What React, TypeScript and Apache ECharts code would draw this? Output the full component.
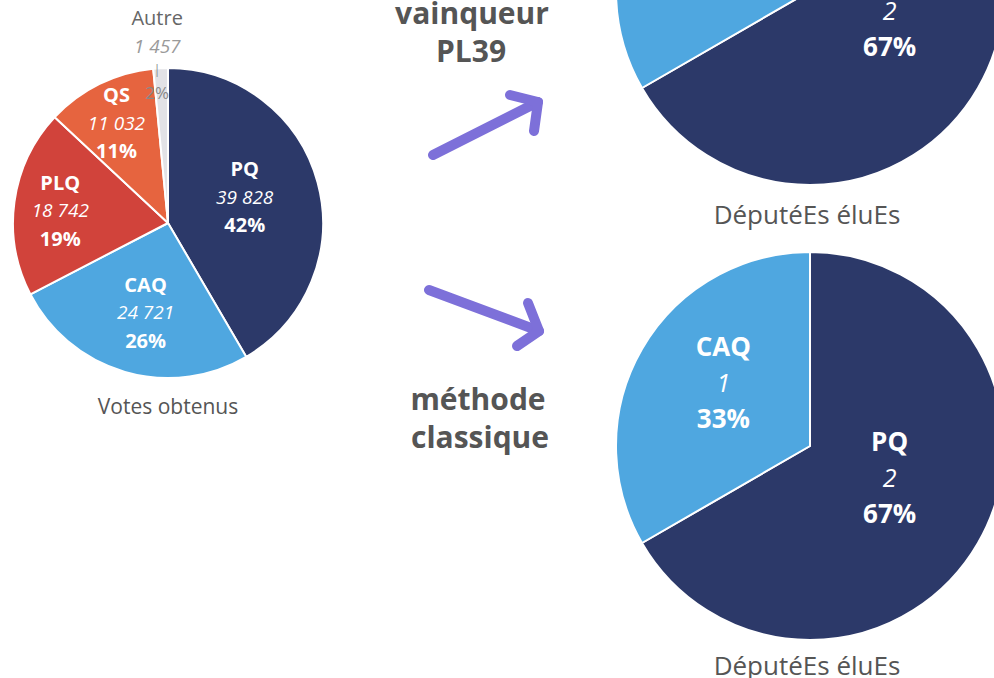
import React, { useEffect, useRef } from "react";
import * as echarts from "echarts";

// Votes obtenus
const voteNames = ["PQ", "CAQ", "PLQ", "QS", "Autre"];
const voteValues = [39828, 24721, 18742, 11032, 1457];
const voteValueLabels = ["39 828", "24 721", "18 742", "11 032", "1 457"];
const votePctLabels = ["42%", "26%", "19%", "11%", "2%"];

// Députées élues
const seatNames = ["PQ", "CAQ"];
const seatsPL39 = [2, 1];
const seatsClassic = [2, 1];
const seatPctLabels = ["67%", "33%"];

const captionVotes = "Votes obtenus";
const captionSeats = "DéputéEs éluEs";
const textPL39 = ["vainqueur", "PL39"];
const textClassic = ["méthode", "classique"];

const COLORS: Record<string, string> = {
  PQ: "#2c3969",
  CAQ: "#4fa7e0",
  PLQ: "#d1433b",
  QS: "#e6643f",
  Autre: "#e2e2e6",
};

const FONT = "'Open Sans', 'Noto Sans', sans-serif";
const ARROW = "#7d70d9";

// label offsets (layout only)
const voteLabelShift = [
  [-1, -5],
  [0, 12],
  [-28, -2],
  [-16, -28],
  [-7, -88],
];
const seatLabelShiftBottom = [
  [-7, -19],
  [0, -14],
];
const seatLabelShiftTop = [
  [-7, -31],
  [0, -14],
];

function seatSeries(values: number[], center: [number, number], shift: number[][]) {
  return {
    type: "pie",
    center,
    radius: 194,
    startAngle: 90,
    clockwise: true,
    silent: true,
    itemStyle: { borderColor: "#ffffff", borderWidth: 2 },
    label: {
      show: true,
      position: "inside",
      color: "#ffffff",
      fontFamily: FONT,
      formatter: (p: any) =>
        `{n|${p.name}}\n{v|${values[p.dataIndex]}}\n{p|${seatPctLabels[p.dataIndex]}}`,
      rich: {
        n: { fontFamily: FONT, fontWeight: "bold", fontSize: 26, color: "#fff", lineHeight: 36 },
        v: { fontFamily: FONT, fontStyle: "italic", fontSize: 25, color: "#fff", lineHeight: 36 },
        p: { fontFamily: FONT, fontWeight: "bold", fontSize: 26, color: "#fff", lineHeight: 36 },
      },
    },
    labelLine: { show: false },
    labelLayout: (params: any) => {
      const s = shift[params.dataIndex];
      return { dx: s[0], dy: s[1] };
    },
    data: seatNames.map((n, i) => ({
      name: n,
      value: values[i],
      itemStyle: { color: COLORS[n] },
    })),
  };
}

const titleStyle = (text: string) => ({
  text,
  fontFamily: FONT,
  fontWeight: "bold",
  fontSize: 30,
  fill: "#555",
  align: "center",
  verticalAlign: "middle",
});

export default function App() {
  const ref = useRef<HTMLDivElement>(null);
  useEffect(() => {
    if (!ref.current) return;
    const chart = echarts.init(ref.current, undefined, { renderer: "svg" });
    const option: any = {
      animation: false,
      backgroundColor: "#ffffff",
      series: [
        {
          type: "pie",
          center: [168, 223],
          radius: 155,
          startAngle: 90,
          clockwise: true,
          silent: true,
          itemStyle: { borderColor: "#ffffff", borderWidth: 2 },
          label: {
            show: true,
            position: "inside",
            fontFamily: FONT,
            formatter: (p: any) => {
              const i = p.dataIndex;
              if (p.name === "Autre") {
                return `{an|${p.name}}\n{av|${voteValueLabels[i]}}\n{al||}\n{ap|${votePctLabels[i]}}`;
              }
              return `{n|${p.name}}\n{v|${voteValueLabels[i]}}\n{p|${votePctLabels[i]}}`;
            },
            rich: {
              n: { fontFamily: FONT, fontWeight: "bold", fontSize: 20, color: "#fff", lineHeight: 28 },
              v: { fontFamily: FONT, fontStyle: "italic", fontSize: 19, color: "#fff", lineHeight: 28 },
              p: { fontFamily: FONT, fontWeight: "bold", fontSize: 20, color: "#fff", lineHeight: 28 },
              an: { fontFamily: FONT, fontSize: 20, color: "#666", lineHeight: 28 },
              av: { fontFamily: FONT, fontStyle: "italic", fontSize: 19, color: "#9a9a9a", lineHeight: 28 },
              al: { fontFamily: FONT, fontSize: 12, color: "#888", lineHeight: 20 },
              ap: { fontFamily: FONT, fontSize: 17, color: "#888", lineHeight: 26 },
            },
          },
          labelLine: { show: false },
          labelLayout: (params: any) => {
            const s = voteLabelShift[params.dataIndex];
            return { dx: s[0], dy: s[1] };
          },
          data: voteNames.map((n, i) => ({
            name: n,
            value: voteValues[i],
            itemStyle: { color: COLORS[n] },
          })),
        },
        seatSeries(seatsPL39, [810, -9], seatLabelShiftTop),
        seatSeries(seatsClassic, [810, 446], seatLabelShiftBottom),
      ],
      graphic: [
        {
          type: "text",
          x: 168,
          y: 406,
          style: { text: captionVotes, fontFamily: FONT, fontSize: 21, fill: "#555", align: "center", verticalAlign: "middle" },
        },
        {
          type: "text",
          x: 807,
          y: 214,
          style: { text: captionSeats, fontFamily: FONT, fontSize: 26, fill: "#555", align: "center", verticalAlign: "middle" },
        },
        {
          type: "text",
          x: 807,
          y: 665,
          style: { text: captionSeats, fontFamily: FONT, fontSize: 26, fill: "#555", align: "center", verticalAlign: "middle" },
        },
        { type: "text", x: 472, y: 12, style: titleStyle(textPL39[0]) },
        { type: "text", x: 471, y: 50, style: titleStyle(textPL39[1]) },
        { type: "text", x: 478, y: 398, style: titleStyle(textClassic[0]) },
        { type: "text", x: 480, y: 436, style: titleStyle(textClassic[1]) },
        {
          type: "polyline",
          shape: { points: [[433, 155], [538, 102]] },
          style: { stroke: ARROW, lineWidth: 10, lineCap: "round", lineJoin: "round", fill: null },
        },
        {
          type: "polyline",
          shape: { points: [[510, 95], [538, 102], [534, 131]] },
          style: { stroke: ARROW, lineWidth: 10, lineCap: "round", lineJoin: "round", fill: null },
        },
        {
          type: "polyline",
          shape: { points: [[429, 290], [539, 331]] },
          style: { stroke: ARROW, lineWidth: 10, lineCap: "round", lineJoin: "round", fill: null },
        },
        {
          type: "polyline",
          shape: { points: [[528, 303], [539, 331], [517, 346]] },
          style: { stroke: ARROW, lineWidth: 10, lineCap: "round", lineJoin: "round", fill: null },
        },
      ],
    };
    chart.setOption(option);
    return () => chart.dispose();
  }, []);
  return (
    <div
      ref={ref}
      style={{ position: "fixed", left: 0, top: 0, width: 994, height: 678 }}
    />
  );
}
